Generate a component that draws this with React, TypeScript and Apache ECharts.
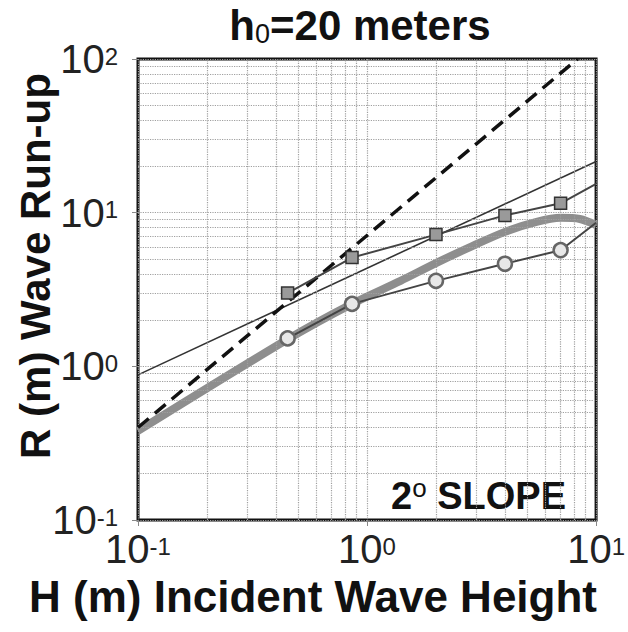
import React, { useEffect, useRef } from "react";
import * as echarts from "echarts";

// ---- data ----
const markerH = [0.45, 0.86, 2.0, 4.0, 7.0];
const runupSquares = [3.0, 5.1, 7.2, 9.6, 11.5];
const runupCircles = [1.52, 2.55, 3.6, 4.65, 5.7];
const edgeH = 10;
const squareEdgeR = 15.4;
const circleEdgeR = 8.6;

const bandH = [0.1, 0.45, 0.86, 1.4, 2.0, 2.77, 4.0, 5.5, 7.0, 8.5, 10];
const bandR = [0.38, 1.5, 2.55, 3.6, 4.7, 5.9, 7.5, 8.7, 9.25, 9.1, 8.3];

const dashedH = [0.1, 8.3];
const dashedR = [0.4, 100];

const thinH = [0.1, 10];
const thinR = [0.88, 21.5];

const xMinor = [0.2, 0.3, 0.4, 0.5, 0.6, 0.7, 0.8, 0.9, 2, 3, 4, 5, 6, 7, 8, 9];
const yMinor = [
  0.2, 0.3, 0.4, 0.5, 0.6, 0.7, 0.8, 0.9,
  2, 3, 4, 5, 6, 7, 8, 9,
  20, 30, 40, 50, 60, 70, 80, 90,
];

const xMin = 0.1, xMax = 10, yMin = 0.1, yMax = 100;

const BOLD = "'Liberation Sans', Arial, Helvetica, sans-serif";
const NARROW = "'Liberation Sans Narrow', 'Liberation Sans', Arial, sans-serif";

const expFmt = (v: number) => {
  const e = Math.round(Math.log10(v));
  return `{b|10}{s|${e}}`;
};
const tickRich = {
  b: { fontSize: 40, fontFamily: NARROW, color: "#222", lineHeight: 30 },
  s: { fontSize: 24, fontFamily: NARROW, color: "#222", verticalAlign: "top", lineHeight: 30 },
};

const zip = (a: number[], b: number[]) => a.map((v, i) => [v, b[i]]);

export default function App() {
  const ref = useRef<HTMLDivElement>(null);
  useEffect(() => {
    if (!ref.current) return;
    const chart = echarts.init(ref.current, null, { renderer: "svg" });
    const gridStyle = { color: "#a0a0a0", type: "dotted", width: 1.2 };
    const option: any = {
      animation: false,
      backgroundColor: "#fff",
      grid: {
        left: 138, right: 28, top: 59, bottom: 112,
        show: true, borderColor: "#111", borderWidth: 3,
      },
      xAxis: {
        type: "log", logBase: 10, min: xMin, max: xMax,
        axisLine: { show: false },
        axisTick: { show: true, length: 6, lineStyle: { color: "#888" } },
        splitLine: { show: true, lineStyle: gridStyle },
        axisLabel: { margin: 14, formatter: expFmt, rich: tickRich },
      },
      yAxis: {
        type: "log", logBase: 10, min: yMin, max: yMax,
        axisLine: { show: false },
        axisTick: { show: true, length: 6, lineStyle: { color: "#888" } },
        splitLine: { show: true, lineStyle: gridStyle },
        axisLabel: { margin: 20, formatter: expFmt, rich: tickRich },
      },
      graphic: [
        {
          type: "text", x: 360, y: 25,
          style: {
            text: "{a|h}{s|0}{a|=20 meters}",
            align: "center", verticalAlign: "middle",
            rich: {
              a: { fontSize: 42, fontWeight: "bold", fontFamily: BOLD, fill: "#111", lineHeight: 44 },
              s: { fontSize: 27, fontFamily: BOLD, fill: "#111", verticalAlign: "bottom", lineHeight: 44 },
            },
          },
        },
        {
          type: "text", x: 313, y: 596,
          style: {
            text: "H (m) Incident Wave Height",
            align: "center", verticalAlign: "middle",
            fontSize: 44, lineHeight: 40, fontWeight: "bold", fontFamily: BOLD, fill: "#111",
          },
        },
        {
          type: "text", x: 35, y: 266, rotation: Math.PI / 2,
          style: {
            text: "R (m) Wave Run-up",
            align: "center", verticalAlign: "middle",
            fontSize: 42, fontWeight: "bold", fontFamily: BOLD, fill: "#111",
          },
        },
        {
          type: "text", x: 566, y: 496,
          style: {
            text: "{a|2}{s|o}{a| SLOPE}",
            align: "right", verticalAlign: "middle",
            rich: {
              a: { fontSize: 38, fontWeight: "bold", fontFamily: BOLD, fill: "#111", lineHeight: 42 },
              s: { fontSize: 26, fontFamily: BOLD, fill: "#111", verticalAlign: "top", lineHeight: 42 },
            },
          },
        },
      ],
      series: [
        {
          type: "line", data: [[1, 1]], symbol: "none", silent: true, z: 1,
          lineStyle: { opacity: 0 },
          markLine: {
            silent: true, symbol: "none", animation: false,
            label: { show: false },
            lineStyle: gridStyle,
            data: [
              ...xMinor.map((v) => ({ xAxis: v })),
              ...yMinor.map((v) => ({ yAxis: v })),
            ],
          },
        },
        {
          type: "line", data: zip(bandH, bandR), smooth: 0.3,
          symbol: "none", z: 3,
          lineStyle: { color: "#8e8e8e", width: 8 },
        },
        {
          type: "line", data: zip(thinH, thinR), symbol: "none", z: 4,
          lineStyle: { color: "#333", width: 1.6 },
        },
        {
          type: "line", data: zip(dashedH, dashedR), symbol: "none", z: 5,
          lineStyle: { color: "#111", width: 3.5, type: [14, 8] },
        },
        {
          type: "line", z: 6,
          data: [...zip(markerH, runupSquares), { value: [edgeH, squareEdgeR], symbol: "none" }],
          symbol: "rect", symbolSize: 12,
          lineStyle: { color: "#444", width: 2 },
          itemStyle: { color: "#9a9a9a", borderColor: "#333", borderWidth: 1.5 },
        },
        {
          type: "line", z: 6,
          data: [...zip(markerH, runupCircles), { value: [edgeH, circleEdgeR], symbol: "none" }],
          symbol: "circle", symbolSize: 14,
          lineStyle: { color: "#444", width: 2 },
          itemStyle: { color: "#e8e8e8", borderColor: "#666", borderWidth: 2.5 },
        },
      ],
    };
    chart.setOption(option);
    return () => chart.dispose();
  }, []);
  return (
    <div
      ref={ref}
      style={{ position: "fixed", left: 0, top: 0, width: 628, height: 632, background: "#fff" }}
    />
  );
}
